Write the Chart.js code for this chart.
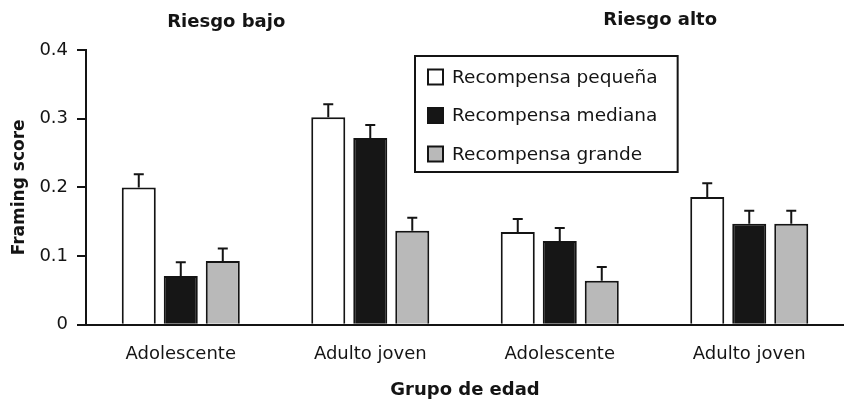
<!DOCTYPE html>
<html>
<head>
<meta charset="utf-8">
<script src="https://cdn.jsdelivr.net/npm/chart.js@4"></script>
<style>
  html, body { margin: 0; padding: 0; background: #fff; }
  #wrap { width: 844px; height: 401px; }
</style>
</head>
<body>
<div id="wrap"><canvas id="chart" width="844" height="401"></canvas></div>
<script>
'use strict';

// ---- data ----
const categories = ['Adolescente', 'Adulto joven', 'Adolescente', 'Adulto joven'];
const riskTitles = ['Riesgo bajo', 'Riesgo alto'];
const seriesLabels = ['Recompensa pequeña', 'Recompensa mediana', 'Recompensa grande'];

const smallReward = [0.200, 0.302, 0.135, 0.186];
const mediumReward = [0.071, 0.272, 0.122, 0.147];
const largeReward = [0.093, 0.137, 0.064, 0.147];

const smallErr = [0.019, 0.019, 0.019, 0.020];
const mediumErr = [0.020, 0.019, 0.019, 0.019];
const largeErr = [0.018, 0.019, 0.020, 0.019];

const yTickLabels = ['0', '0.1', '0.2', '0.3', '0.4'];

const INK = '#141414';
const FONT = "'DejaVu Sans', 'Liberation Sans', sans-serif";

Chart.defaults.font.family = FONT;
Chart.defaults.color = INK;

// error bars (upper only) above each bar
const errorBarPlugin = {
    id: 'errorBars',
    afterDatasetsDraw(chart) {
        const ctx = chart.ctx;
        const y = chart.scales.y;
        ctx.save();
        ctx.strokeStyle = INK;
        ctx.lineWidth = 2;
        chart.data.datasets.forEach((ds, i) => {
            const meta = chart.getDatasetMeta(i);
            meta.data.forEach((bar, j) => {
                const top = y.getPixelForValue(ds.data[j] + ds.errors[j]);
                ctx.beginPath();
                ctx.moveTo(bar.x, bar.y);
                ctx.lineTo(bar.x, top);
                ctx.moveTo(bar.x - 5, top);
                ctx.lineTo(bar.x + 5, top);
                ctx.stroke();
            });
        });
        ctx.restore();
    }
};

// group titles and boxed legend inside the plot
const decorPlugin = {
    id: 'decor',
    afterDraw(chart) {
        const ctx = chart.ctx;
        const x = chart.scales.x;
        ctx.save();

        // risk titles above the pairs of groups
        ctx.font = 'bold 18px ' + FONT;
        ctx.fillStyle = INK;
        ctx.textAlign = 'center';
        ctx.textBaseline = 'middle';
        ctx.fillText(riskTitles[0], x.getPixelForValue(0.24), 22);
        ctx.fillText(riskTitles[1], x.getPixelForValue(2.53), 20);

        // legend box
        ctx.font = '18.5px ' + FONT;
        const textW = Math.max(...seriesLabels.map(t => ctx.measureText(t).width));
        const bx = 415, by = 56, bh = 116;
        const bw = 13 + 15 + 9 + textW + 20;
        ctx.lineWidth = 2;
        ctx.strokeStyle = INK;
        ctx.fillStyle = '#fff';
        ctx.fillRect(bx, by, bw, bh);
        ctx.strokeRect(bx, by, bw, bh);

        ctx.textAlign = 'left';
        chart.data.datasets.forEach((ds, i) => {
            const cy = 77 + i * 38.5;
            ctx.fillStyle = ds.backgroundColor;
            ctx.fillRect(bx + 13, cy - 7.5, 15, 15);
            ctx.lineWidth = 2;
            ctx.strokeRect(bx + 13, cy - 7.5, 15, 15);
            ctx.fillStyle = INK;
            ctx.fillText(ds.label, bx + 13 + 15 + 9, cy + 1);
        });
        ctx.restore();
    }
};

const barStyle = {
    borderColor: INK,
    borderWidth: 2,
    borderSkipped: 'start',
    categoryPercentage: 0.665,
    barPercentage: 0.81
};

new Chart(document.getElementById('chart'), {
    type: 'bar',
    data: {
        labels: categories,
        datasets: [
            Object.assign({ label: seriesLabels[0], data: smallReward, errors: smallErr, backgroundColor: '#ffffff' }, barStyle),
            Object.assign({ label: seriesLabels[1], data: mediumReward, errors: mediumErr, backgroundColor: '#161616' }, barStyle),
            Object.assign({ label: seriesLabels[2], data: largeReward, errors: largeErr, backgroundColor: '#b9b9b9' }, barStyle)
        ]
    },
    options: {
        responsive: false,
        animation: false,
        devicePixelRatio: 1,
        layout: { padding: { left: 4, right: 0, top: 50, bottom: 0 } },
        plugins: {
            legend: { display: false },
            tooltip: { enabled: false }
        },
        scales: {
            x: {
                grid: { display: false, drawTicks: false },
                border: { color: INK, width: 2 },
                ticks: { padding: 19, font: { size: 18 }, color: INK },
                title: {
                    display: true,
                    text: 'Grupo de edad',
                    font: { size: 18, weight: 'bold' },
                    color: INK,
                    padding: { top: -5, bottom: 0 }
                }
            },
            y: {
                min: 0,
                max: 0.4,
                grid: { drawOnChartArea: false, drawTicks: true, tickLength: 9, color: INK, lineWidth: 2 },
                border: { color: INK, width: 2 },
                ticks: {
                    stepSize: 0.1,
                    padding: 9,
                    font: { size: 18 },
                    color: INK,
                    callback: (v, i) => yTickLabels[i]
                },
                title: {
                    display: true,
                    text: 'Framing score',
                    font: { size: 17, weight: 'bold' },
                    color: INK,
                    padding: { top: 5, bottom: 1 }
                }
            }
        }
    },
    plugins: [errorBarPlugin, decorPlugin]
});
</script>
</body>
</html>
